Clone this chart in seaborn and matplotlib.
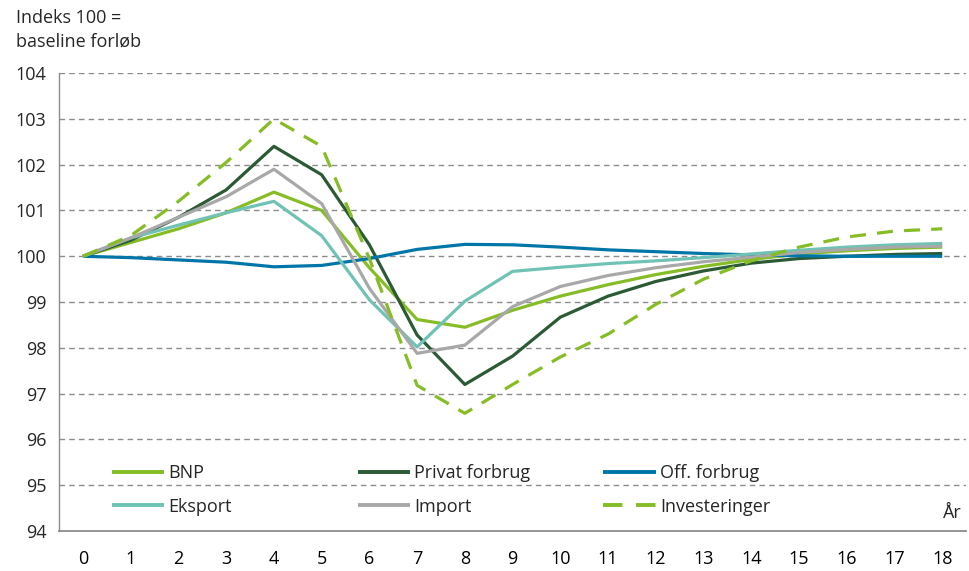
import numpy as np
import pandas as pd
import matplotlib
matplotlib.use("Agg")
import matplotlib.pyplot as plt
import seaborn as sns

years = list(range(19))

bnp = [100, 100.3, 100.6, 100.95, 101.4, 101.0, 99.75, 98.62, 98.45, 98.82, 99.13,
       99.38, 99.6, 99.78, 99.93, 100.05, 100.12, 100.17, 100.2]
privat = [100, 100.35, 100.85, 101.45, 102.4, 101.78, 100.25, 98.28, 97.2, 97.82, 98.67,
          99.13, 99.45, 99.68, 99.85, 99.95, 100.0, 100.04, 100.06]
off = [100, 99.97, 99.92, 99.87, 99.77, 99.8, 99.95, 100.15, 100.26, 100.25, 100.2,
       100.14, 100.1, 100.06, 100.03, 100.01, 100.0, 100.0, 100.0]
eksport = [100, 100.4, 100.68, 100.95, 101.2, 100.45, 99.05, 98.02, 99.02, 99.67, 99.76,
           99.84, 99.9, 99.97, 100.05, 100.13, 100.2, 100.25, 100.28]
imp = [100, 100.4, 100.85, 101.3, 101.9, 101.15, 99.3, 97.88, 98.06, 98.9, 99.34,
       99.58, 99.75, 99.88, 99.98, 100.08, 100.15, 100.2, 100.22]
invest = [100, 100.45, 101.2, 102.05, 103.0, 102.4, 99.95, 97.18, 96.57, 97.2, 97.8,
          98.3, 98.95, 99.5, 99.9, 100.2, 100.42, 100.55, 100.6]

series = ["BNP", "Privat forbrug", "Off. forbrug", "Eksport", "Import", "Investeringer"]
values = [bnp, privat, off, eksport, imp, invest]
colors = ["#86bc25", "#2b5a34", "#0076a8", "#6fc2b4", "#a8a8a8", "#86bc25"]

df = pd.DataFrame({
    "year": years * len(series),
    "value": sum(values, []),
    "serie": np.repeat(series, len(years)),
})

sns.set_style("white")
plt.rcParams["font.family"] = ["Open Sans", "DejaVu Sans"]

fig = plt.figure(figsize=(9.69, 5.71), dpi=100)
ax = fig.add_axes([0.061, 0.07, 0.936, 0.802])

lines = {}
for name, col in zip(series, colors):
    d = df[df["serie"] == name]
    ls = (0, (5, 3.5)) if name == "Investeringer" else "-"
    sns.lineplot(data=d, x="year", y="value", ax=ax, color=col, lw=2.3,
                 linestyle=ls, solid_capstyle="butt")
    lines[name] = ax.lines[-1]

ax.set_xlim(-0.5, 18.5)
ax.set_ylim(94, 104)
ax.set_yticks(range(94, 105))
ax.set_xticks(years)
ax.set_xticks(np.arange(-0.5, 18.6, 1), minor=True)
ax.tick_params(axis="x", which="major", length=0, labelsize=13, pad=14, colors="black")
ax.tick_params(axis="x", which="minor", length=8, width=1, color="#8c8c8c", direction="out")
ax.tick_params(axis="y", length=5, width=1, color="#8c8c8c", labelsize=13, pad=4, direction="out")
ax.set_xlabel("")
ax.set_ylabel("")

for y in range(95, 105):
    ax.axhline(y, color="#8c8c8c", lw=1, ls=(0, (4, 3)), zorder=0)

for s in ["top", "right"]:
    ax.spines[s].set_visible(False)
ax.spines["left"].set_color("#8c8c8c")
ax.spines["bottom"].set_color("#8c8c8c")
ax.spines["left"].set_linewidth(1)
ax.spines["bottom"].set_linewidth(1.3)

# legend in three fixed-width columns, like the original
cols = [(["BNP", "Eksport"], 0.058), (["Privat forbrug", "Import"], 0.329),
        (["Off. forbrug", "Investeringer"], 0.600)]
legs = []
for names, xpos in cols:
    leg = ax.legend([lines[n] for n in names], names, loc="upper left",
                    bbox_to_anchor=(xpos, 0.146), frameon=False, fontsize=13,
                    borderpad=0, borderaxespad=0, handlelength=2.9,
                    handletextpad=0.25, labelspacing=0.85)
    for h in leg.get_lines():
        h.set_linewidth(2.8)
    legs.append(leg)
for leg in legs[:-1]:
    ax.add_artist(leg)

ax.text(0.995, 0.04, "År", transform=ax.transAxes, fontsize=13, ha="right", va="center")
fig.text(0.016, 0.985, "Indeks 100 =\nbaseline forløb", fontsize=13, ha="left", va="top",
         linespacing=1.45)

fig.savefig("out.png", dpi=100)
